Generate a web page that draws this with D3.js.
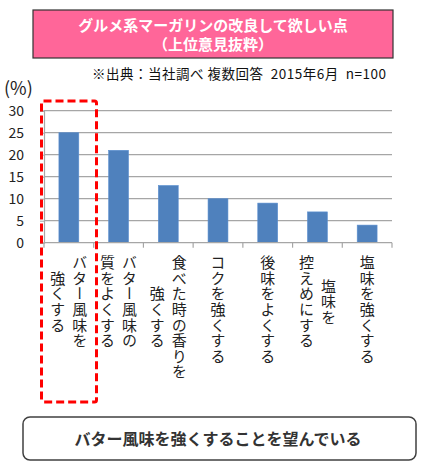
<!DOCTYPE html>
<html><head><meta charset="utf-8">
<script src="https://cdn.jsdelivr.net/npm/d3@7"></script>
<style>
html,body{margin:0;padding:0;background:#fff;}
svg{display:block;}
</style></head>
<body>
<script>
const categories = [
  ["バター風味を","強くする"],
  ["バター風味の","質をよくする"],
  ["食べた時の香りを","強くする"],
  ["コクを強くする"],
  ["後味をよくする"],
  ["塩味を","控えめにする"],
  ["塩味を強くする"]
];
const values = [25, 21, 13, 10, 9, 7, 4];
const yTicks = [0, 5, 10, 15, 20, 25, 30];
const titleLines = ["グルメ系マーガリンの改良して欲しい点", "（上位意見抜粋）"];
const sourceText = "※出典：当社調べ 複数回答  2015年6月  n=100";
const unitText = "(%)";
const conclusion = "バター風味を強くすることを望んでいる";

const W = 423, H = 466;
const font = "'Noto Sans CJK JP', 'Noto Sans', sans-serif";
const svg = d3.select("body").append("svg").attr("width", W).attr("height", H)
  .style("font-family", font);

// Title box
svg.append("rect").attr("x", 33).attr("y", 10).attr("width", 360).attr("height", 48)
  .attr("fill", "#FF6699").attr("stroke", "#333").attr("stroke-width", 1.2);
svg.selectAll("text.title").data(titleLines).join("text").attr("class", "title")
  .attr("x", 213).attr("y", (d, i) => 30.5 + i * 19.5)
  .attr("text-anchor", "middle").attr("fill", "#fff").attr("font-weight", "bold")
  .attr("font-size", 15).text(d => d);

// Source
svg.append("text").attr("x", 386).attr("y", 79).attr("text-anchor", "end")
  .style("white-space", "pre").attr("xml:space", "preserve")
  .attr("textLength", 294).attr("lengthAdjust", "spacing")
  .attr("font-size", 13.5).attr("fill", "#111").text(sourceText);
svg.append("text").attr("x", 4).attr("y", 95).attr("font-size", 18).attr("fill", "#222").text(unitText);

// Scales
const x = d3.scaleBand().domain(d3.range(categories.length)).range([44, 392]).paddingInner(0.6).paddingOuter(0.3);
const xb = d3.scaleBand().domain(d3.range(categories.length)).range([44, 392]);
const y = d3.scaleLinear().domain([0, 30]).range([242.7, 110.7]);

// Grid
svg.append("g").selectAll("line").data(yTicks.filter(t => t > 0)).join("line")
  .attr("x1", 44).attr("x2", 392).attr("y1", d => y(d)).attr("y2", d => y(d))
  .attr("stroke", "#A6A6A6").attr("stroke-width", 1.2);

// Y axis
const yAxis = svg.append("g").attr("transform", "translate(44,0)")
  .call(d3.axisLeft(y).tickValues(yTicks).tickSize(4).tickPadding(16));
yAxis.select(".domain").attr("stroke", "#A6A6A6").attr("stroke-width", 1.2);
yAxis.selectAll(".tick line").attr("stroke", "#A6A6A6");
yAxis.selectAll(".tick text").attr("font-size", 14).attr("fill", "#222").attr("font-family", font);

// Bars
svg.append("g").selectAll("rect").data(values).join("rect")
  .attr("x", (d, i) => x(i)).attr("width", x.bandwidth())
  .attr("y", d => y(d)).attr("height", d => y(0) - y(d))
  .attr("fill", "#4F81BD").attr("stroke", "#5B8FD0").attr("stroke-width", 0.6);

// X axis line + ticks at band boundaries
const bounds = d3.range(categories.length + 1).map(i => 44 + i * xb.step());
svg.append("line").attr("x1", 44).attr("x2", 392).attr("y1", y(0)).attr("y2", y(0))
  .attr("stroke", "#A6A6A6").attr("stroke-width", 1.2);
svg.append("g").selectAll("line").data(bounds).join("line")
  .attr("x1", d => d).attr("x2", d => d).attr("y1", y(0)).attr("y2", y(0) + 5)
  .attr("stroke", "#A6A6A6").attr("stroke-width", 1.2);

// Vertical category labels
const fs = 15, lh = 22;
categories.forEach((lines, i) => {
  const maxLen = d3.max(lines, l => l.length);
  const cx = xb(i) + xb.bandwidth() / 2;
  const n = lines.length;
  lines.forEach((line, j) => {
    const colX = cx + ((n - 1) / 2 - j) * lh;
    const startY = 255 + (maxLen - line.length) * fs * 1.04 / 2;
    svg.append("text")
      .attr("x", colX).attr("y", startY)
      .attr("writing-mode", "vertical-rl")
      .style("writing-mode", "vertical-rl")
      .style("text-orientation", "upright")
      .attr("font-size", fs).attr("fill", "#222")
      .attr("letter-spacing", 0.6)
      .attr("dominant-baseline", "central")
      .text(line);
  });
});

// Red dashed highlight
svg.append("rect").attr("x", 41.5).attr("y", 101).attr("width", 55).attr("height", 301)
  .attr("rx", 2).attr("fill", "none").attr("stroke", "#FF0000").attr("stroke-width", 3)
  .attr("stroke-dasharray", "8,4");

// Conclusion box
svg.append("rect").attr("x", 23).attr("y", 417).attr("width", 393).attr("height", 43)
  .attr("rx", 7).attr("fill", "#fff").attr("stroke", "#404040").attr("stroke-width", 1.5);
svg.append("text").attr("x", 218).attr("y", 445).attr("text-anchor", "middle")
  .attr("font-size", 16).attr("font-weight", "bold").attr("fill", "#333").text(conclusion);
</script>
</body></html>
